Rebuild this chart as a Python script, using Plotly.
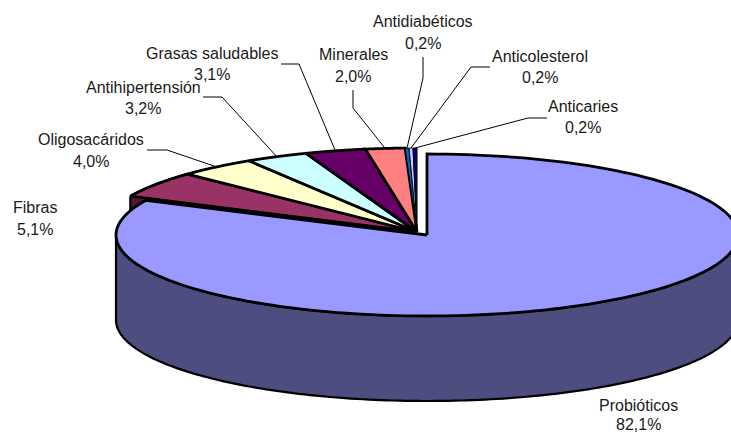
import numpy as np
import plotly.graph_objects as go

# Values in percent, clockwise from twelve o'clock
categories = ["Probióticos", "Fibras", "Oligosacáridos", "Antihipertensión",
              "Grasas saludables", "Minerales", "Antidiabéticos",
              "Anticolesterol", "Anticaries"]
values = [82.1, 5.1, 4.0, 3.2, 3.1, 2.0, 0.2, 0.2, 0.2]
top_colors = ["#9999FF", "#993366", "#FFFFCC", "#CCFFFF", "#660066",
              "#FF8080", "#0066CC", "#CCCCFF", "#000080"]
wall_colors = ["#4D4D80", "#4D1A33"]

# Projected pie geometry, in page pixels
MAIN = dict(cx=427, cy=235, rx=311, ry=81)
REST = dict(cx=417, cy=232, rx=317, ry=84)
DEPTH = 85

# Label centres (name line, value line) and the elbow of each leader line
label_pos = {
    "Probióticos": (638, 405, 424),
    "Fibras": (35, 207, 229),
    "Oligosacáridos": (91, 139, 161),
    "Antihipertensión": (143, 87, 108),
    "Grasas saludables": (212, 53, 74),
    "Minerales": (353, 54, 76),
    "Antidiabéticos": (423, 21, 43),
    "Anticolesterol": (540, 56, 77),
    "Anticaries": (583, 106, 127),
}
leader_elbows = {
    "Oligosacáridos": [(147, 150), (167, 150)],
    "Antihipertensión": [(203, 97), (222, 97)],
    "Grasas saludables": [(281, 64), (299, 64)],
    "Minerales": [(353, 90), (353, 108)],
    "Antidiabéticos": [(423, 57), (423, 78)],
    "Anticolesterol": [(490, 67), (471, 67)],
    "Anticaries": [(547, 118), (528, 118)],
}


def rim(g, deg, drop=0):
    a = np.radians(deg)
    return g["cx"] + g["rx"] * np.sin(a), g["cy"] - g["ry"] * np.cos(a) + drop


def arc(g, start, end, drop=0):
    return rim(g, np.linspace(start, end, 160), drop)


def polygon(fig, xs, ys, fill, width=2.8):
    fig.add_trace(go.Scatter(
        x=xs, y=ys, mode="lines", fill="toself", fillcolor=fill,
        line=dict(color="black", width=width, simplify=False),
        hoverinfo="skip", showlegend=False))


def sector(fig, g, start, end, fill, width=2.8):
    x, y = arc(g, start, end)
    polygon(fig, [g["cx"], *x, g["cx"]], [g["cy"], *y, g["cy"]], fill, width)


total = sum(values)
edges = np.cumsum([0] + values) / total * 360
fig = go.Figure()

# Small slices: outer wall of the leftmost one first, tops over it,
# with the hairline slices last and thinly stroked so their fill stays visible
x, y = arc(REST, edges[1], edges[2])
x2, y2 = arc(REST, edges[1], edges[2], DEPTH)
polygon(fig, [*x, *x2[::-1], x[0]], [*y, *y2[::-1], y[0]], wall_colors[1], 2.2)
for i in range(1, len(values)):
    if values[i] >= 1:
        sector(fig, REST, edges[i], edges[i + 1], top_colors[i])
for i in range(1, len(values)):
    if values[i] < 1:
        sector(fig, REST, edges[i], edges[i + 1], top_colors[i], 1)

# Leader lines run from each slice's rim midpoint to its label
for i, name in enumerate(categories):
    if name in leader_elbows:
        ex, ey = rim(REST, (edges[i] + edges[i + 1]) / 2)
        pts = leader_elbows[name]
        fig.add_trace(go.Scatter(
            x=[p[0] for p in pts] + [ex], y=[p[1] for p in pts] + [ey],
            mode="lines", line=dict(color="black", width=1),
            hoverinfo="skip", showlegend=False))

# Large slice: front wall, then its top
x, y = arc(MAIN, 90, 270)
x2, y2 = arc(MAIN, 90, 270, DEPTH)
polygon(fig, [*x, *x2[::-1], x[0]], [*y, *y2[::-1], y[0]], wall_colors[0], 2.2)
sector(fig, MAIN, edges[0], edges[1], top_colors[0])

annotations = []
for name, val in zip(categories, values):
    lx, y_name, y_val = label_pos[name]
    pct = f"{val:.1f}%".replace(".", ",")
    for text, ly in ((name, y_name), (pct, y_val)):
        annotations.append(dict(
            x=lx, y=ly, xref="x", yref="y", text=text, showarrow=False,
            xanchor="center", yanchor="middle", borderpad=0,
            font=dict(family="Liberation Sans", size=16, color="#1a1a1a")))

fig.update_layout(
    width=731, height=433, margin=dict(l=0, r=0, t=0, b=0),
    paper_bgcolor="white", plot_bgcolor="white",
    xaxis=dict(range=[0, 731], visible=False, fixedrange=True),
    yaxis=dict(range=[433, 0], visible=False, fixedrange=True),
    annotations=annotations)

fig.write_html("out.html", config=dict(displayModeBar=False))
